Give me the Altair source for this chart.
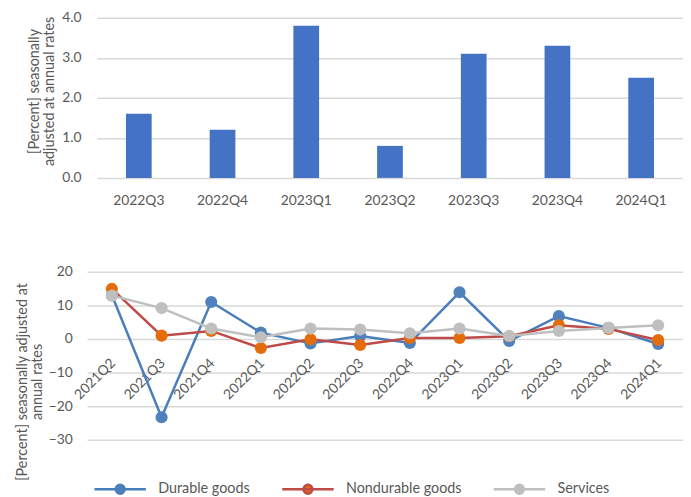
import altair as alt
import pandas as pd

# ---- data -------------------------------------------------------------
bar_quarters = ["2022Q3", "2022Q4", "2023Q1", "2023Q2", "2023Q3", "2023Q4", "2024Q1"]
bar_values = [1.6, 1.2, 3.8, 0.8, 3.1, 3.3, 2.5]

line_quarters = ["2021Q2", "2021Q3", "2021Q4", "2022Q1", "2022Q2", "2022Q3",
                 "2022Q4", "2023Q1", "2023Q2", "2023Q3", "2023Q4", "2024Q1"]
durable = [13.0, -23.3, 11.0, 1.9, -1.3, 0.9, -1.2, 13.9, -0.6, 6.8, 3.3, -1.5]
nondurable = [14.9, 1.0, 2.4, -2.7, -0.1, -1.8, 0.3, 0.3, 0.8, 4.1, 3.0, -0.3]
services = [12.9, 9.2, 3.1, 0.5, 3.1, 2.8, 1.7, 3.1, 0.9, 2.4, 3.3, 4.1]

series_names = ["Durable goods", "Nondurable goods", "Services"]
line_colors = ["#4A7EBB", "#BE4B48", "#BFBFBF"]
marker_colors = ["#4F81BD", "#E46C0A", "#BFBFBF"]

top_ticks = [0, 1, 2, 3, 4]
bottom_ticks = [-30, -20, -10, 0, 10, 20]

FONT = "Lato"
TEXT = "#595959"
GRID = "#D9D9D9"

# ---- tables -----------------------------------------------------------
bar_df = pd.DataFrame({"quarter": bar_quarters, "value": bar_values})
long_df = pd.DataFrame({
    "quarter": line_quarters * 3,
    "series": [series_names[0]] * len(line_quarters)
              + [series_names[1]] * len(line_quarters)
              + [series_names[2]] * len(line_quarters),
    "value": durable + nondurable + services,
})

# ---- top: bar chart ---------------------------------------------------
top = alt.Chart(bar_df).mark_bar(color="#4472C4").encode(
    x=alt.X("quarter:N",
            scale=alt.Scale(range=[10, 603], paddingInner=0.693, paddingOuter=0.3465),
            axis=alt.Axis(title=None, labelAngle=0, ticks=False, domain=False, grid=False,
                          labelPadding=16, labelFontSize=14)),
    y=alt.Y("value:Q", scale=alt.Scale(domain=[0, 4], nice=False),
            axis=alt.Axis(values=top_ticks, format=".1f", ticks=False, domain=False,
                          labelPadding=6, labelFontSize=14,
                          title=["[Percent] seasonally", "adjusted at annual rates"],
                          titleX=-49, titleY=74, titleAngle=270,
                          titleAlign="center", titleBaseline="alphabetic")),
).properties(width=603, height=162)

# ---- bottom: lines with markers --------------------------------------
SYMBOL = ("M-1,0L1,0M-0.173,0A0.173,0.173,0,1,0,0.173,0"
          "A0.173,0.173,0,1,0,-0.173,0Z")
legend_kw = dict(orient="none", legendX=6, legendY=469, direction="horizontal",
                 title=None, symbolType=SYMBOL, symbolSize=2704, symbolStrokeWidth=2.5,
                 labelFont=FONT, labelFontSize=14.5, labelColor=TEXT, labelOffset=11,
                 columnPadding=31, clipHeight=16)

x_enc = alt.X("quarter:N", scale=alt.Scale(type="point", padding=0.5),
              axis=alt.Axis(title=None, labelAngle=-45, labelAlign="right",
                            labelBaseline="middle", labelPadding=22, labelOffset=1,
                            offset=-102, ticks=False, domain=False, grid=False,
                            labelFontSize=14))
y_enc = alt.Y("value:Q", scale=alt.Scale(domain=[-30, 20], nice=False),
              axis=alt.Axis(values=bottom_ticks, ticks=False, domain=False,
                            labelPadding=15, labelFontSize=14,
                            title=["[Percent] seasonally adjusted at", "annual rates"],
                            titleX=-61, titleY=111, titleAngle=270,
                            titleAlign="center", titleBaseline="alphabetic"))

base = alt.Chart(long_df)
lines = base.mark_line(strokeWidth=2.5).encode(
    x=x_enc, y=y_enc,
    stroke=alt.Stroke("series:N", scale=alt.Scale(domain=series_names, range=line_colors),
                      legend=alt.Legend(**legend_kw)),
)
points = base.mark_circle(size=150, opacity=1).encode(
    x=x_enc, y=y_enc,
    fill=alt.Fill("series:N", scale=alt.Scale(domain=series_names, range=marker_colors),
                  legend=alt.Legend(**legend_kw)),
)
bottom = alt.layer(lines, points).properties(width=603, height=170)

chart = alt.vconcat(top, bottom, spacing=58).properties(
    padding={"left": 6, "top": 0, "right": 0, "bottom": 0},
    background="white",
).configure_view(stroke=None).configure_axis(
    labelFont=FONT, labelColor=TEXT, titleFont=FONT, titleColor=TEXT,
    titleFontSize=14.5, titleFontWeight="normal", titleLineHeight=15,
    gridColor=GRID, gridWidth=1.5,
)

chart.save("out.html", embed_options={"renderer": "svg", "actions": False})
